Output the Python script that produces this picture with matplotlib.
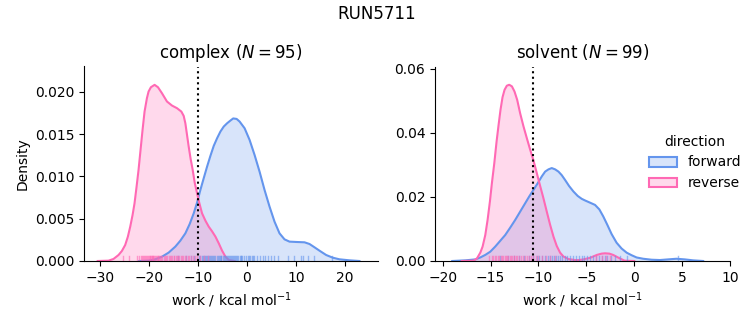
import matplotlib
matplotlib.use("Agg")
import matplotlib.pyplot as plt
from matplotlib.patches import Patch
from matplotlib.colors import to_rgba

# density curves of the work distributions (work in kcal/mol, density)
complex_fwd_x = [-22.0, -20.1, -18.73, -17.36, -16.0, -14.63, -13.61, -12.58, -11.69, -10.87,
                 -10.19, -9.51, -8.83, -8.14, -7.46, -6.78, -6.09, -5.41, -4.73, -4.04, -3.36,
                 -2.8, -2.1, -1.49, -0.47, 0.55, 1.57, 2.59, 3.61, 4.63, 5.65, 6.67, 7.69, 8.71,
                 10.08, 11.78, 12.8, 13.82, 14.84, 16.2, 17.56, 18.92, 20.96, 23.0]
complex_fwd_y = [0.0, 0.00004, 0.0002, 0.00051, 0.00099, 0.0017, 0.0024, 0.00327, 0.00438,
                 0.00564, 0.0069, 0.0084, 0.00978, 0.01116, 0.01243, 0.01361, 0.01452, 0.01531,
                 0.0159, 0.01629, 0.01661, 0.01686, 0.0168, 0.01649, 0.0157, 0.01432, 0.01254,
                 0.01057, 0.0084, 0.00643, 0.00465, 0.00327, 0.00256, 0.00229, 0.00225, 0.00221,
                 0.00201, 0.00162, 0.00122, 0.00071, 0.00039, 0.0002, 0.00008, 0.0]

complex_rev_x = [-30.5, -28.29, -27.27, -26.24, -25.56, -24.88, -24.33, -23.85, -23.37, -22.97,
                 -22.55, -22.15, -21.74, -21.33, -20.92, -20.44, -20.1, -19.62, -18.87, -18.18,
                 -17.36, -16.34, -15.31, -14.29, -13.4, -12.92, -12.58, -12.24, -11.9, -11.49,
                 -11.08, -10.67, -10.19, -9.71, -9.17, -8.48, -7.8, -7.12, -6.43, -5.75, -5.07,
                 -4.39, -3.7, -2.5]
complex_rev_y = [0.0, 0.00004, 0.00024, 0.00071, 0.00118, 0.00189, 0.00288, 0.00406, 0.00544,
                 0.00682, 0.0088, 0.01077, 0.01314, 0.0155, 0.01767, 0.01925, 0.02004, 0.02055,
                 0.02083, 0.02055, 0.01984, 0.01886, 0.01838, 0.01807, 0.01767, 0.01716, 0.01629,
                 0.01491, 0.01353, 0.01203, 0.01077, 0.00927, 0.00801, 0.00682, 0.00564, 0.00477,
                 0.00406, 0.00351, 0.00288, 0.00209, 0.00122, 0.00051, 0.00012, 0.0]

solvent_fwd_x = [-19.0, -17.64, -16.59, -16.07, -15.55, -15.03, -14.51, -13.99, -13.47, -12.95,
                 -12.43, -11.91, -11.39, -10.97, -10.52, -10.07, -9.65, -9.3, -8.95, -8.61,
                 -8.26, -7.91, -7.57, -7.22, -6.8, -6.35, -5.9, -5.48, -5.14, -4.61, -4.09,
                 -3.64, -3.23, -2.81, -2.36, -1.84, -1.32, -0.79, -0.27, 0.25, 0.94, 1.81, 2.68,
                 3.54, 4.41, 5.28, 6.15, 7.2]
solvent_fwd_y = [0.0, 0.0002, 0.0005, 0.0011, 0.0019, 0.0029, 0.0045, 0.0063, 0.0081, 0.0104,
                 0.0128, 0.0154, 0.018, 0.0201, 0.0222, 0.0243, 0.0264, 0.0279, 0.0286, 0.029,
                 0.0286, 0.0279, 0.0268, 0.0253, 0.0234, 0.0217, 0.0203, 0.0194, 0.0189, 0.0182,
                 0.0175, 0.0161, 0.0139, 0.0113, 0.0084, 0.0057, 0.0039, 0.0026, 0.0018, 0.0011,
                 0.0007, 0.0004, 0.0003, 0.0005, 0.0007, 0.0005, 0.0002, 0.0]

solvent_rev_x = [-18.0, -16.77, -16.42, -16.07, -15.83, -15.55, -15.31, -15.07, -14.86, -14.61,
                 -14.37, -14.16, -13.96, -13.75, -13.54, -13.3, -13.05, -12.77, -12.5, -12.22,
                 -11.91, -11.56, -11.21, -10.86, -10.52, -10.17, -9.82, -9.48, -9.13, -8.78,
                 -8.43, -8.09, -7.74, -7.39, -6.87, -6.18, -5.8, -5.3, -4.6, -3.9, -3.4, -3.05,
                 -2.6, -2.2, -1.5, -1.0, 0.0]
solvent_rev_y = [0.0, 0.0001, 0.0008, 0.0026, 0.0045, 0.0081, 0.0128, 0.0185, 0.0243, 0.0305,
                 0.0373, 0.0425, 0.0472, 0.0511, 0.0534, 0.0547, 0.055, 0.0545, 0.0529, 0.0503,
                 0.0461, 0.042, 0.0383, 0.0347, 0.0314, 0.0274, 0.0234, 0.0196, 0.0154, 0.0113,
                 0.0076, 0.0047, 0.0026, 0.0014, 0.0006, 0.0003, 0.0003, 0.0005, 0.001, 0.0019,
                 0.0023, 0.0024, 0.0023, 0.0019, 0.0008, 0.0001, 0.0]

# individual work values shown as rug ticks
complex_fwd_work = [-14.0, -12.5, -11.5, -10.8, -9.8, -9.5, -9.2, -9.0, -8.8, -8.6, -8.4, -8.2,
                    -8.0, -7.8, -7.6, -7.4, -7.2, -6.9, -6.7, -6.5, -6.2, -6.0, -5.8, -5.5, -5.3,
                    -5.2, -4.8, -4.6, -4.5, -4.2, -4.0, -3.9, -3.6, -3.4, -3.3, -3.0, -2.8, -2.7,
                    -2.4, -2.2, -2.1, -1.8, -1.5, -1.3, -1.2, -0.9, -0.5, -0.2, 0.2, 0.4, 0.6,
                    1.0, 1.2, 1.5, 2.0, 2.6, 3.2, 3.8, 4.3, 5.0, 5.6, 6.3, 8.4, 9.7, 11.0, 11.4,
                    12.5, 13.8, 17.3]
complex_rev_work = [-25.4, -24.2, -22.4, -22.0, -21.7, -21.5, -21.3, -21.1, -20.8, -20.6, -20.4,
                    -20.3, -20.1, -19.9, -19.8, -19.7, -19.5, -19.3, -19.2, -19.1, -18.9, -18.7,
                    -18.6, -18.4, -18.2, -18.1, -18.0, -17.8, -17.5, -17.3, -17.0, -16.8, -16.5,
                    -16.3, -16.0, -15.8, -15.5, -15.3, -15.0, -14.8, -14.5, -14.3, -14.0, -13.8,
                    -13.5, -13.2, -13.0, -12.7, -12.4, -12.1, -11.8, -11.4, -11.0, -10.6, -10.2,
                    -9.5, -8.8, -8.0]
solvent_fwd_work = [-14.0, -13.2, -12.5, -12.0, -11.5, -11.0, -10.6, -10.2, -9.9, -9.6, -9.3,
                    -9.0, -8.8, -8.6, -8.4, -8.2, -8.0, -7.8, -7.5, -7.2, -7.0, -6.7, -6.4, -6.1,
                    -5.8, -5.5, -5.2, -4.9, -4.6, -4.3, -4.0, -3.7, -3.4, -3.1, -2.8, -2.4, -2.0,
                    -1.5, -0.8, 4.6]
solvent_rev_work = [-15.2, -14.9, -14.7, -14.5, -14.4, -14.2, -14.1, -13.9, -13.8, -13.7, -13.5,
                    -13.4, -13.3, -13.2, -13.0, -12.9, -12.8, -12.6, -12.5, -12.3, -12.2, -12.0,
                    -11.8, -11.6, -11.4, -11.2, -11.0, -10.8, -10.6, -10.3, -10.0, -9.6, -9.2,
                    -8.8, -8.3, -4.0, -3.4, -2.9, -2.5]

# free energy estimates (dotted lines)
complex_estimate = -10.0
solvent_estimate = -10.55

colors = {"forward": "cornflowerblue", "reverse": "hotpink"}


def draw_phase(ax, curves, works, estimate, title):
    for direction in ["forward", "reverse"]:
        x, y = curves[direction]
        c = colors[direction]
        ax.fill_between(x, y, color=c, alpha=0.25, lw=0)
        ax.plot(x, y, color=c, lw=1.5)
    for direction in ["forward", "reverse"]:
        for w in works[direction]:
            ax.axvline(w, ymin=0, ymax=0.025, color=colors[direction], lw=1, alpha=0.6)
    ax.axvline(estimate, color="black", ls=":", lw=1.5)
    ax.set_title(title)
    ax.set_xlabel("work / kcal mol$^{-1}$")
    ax.spines["top"].set_visible(False)
    ax.spines["right"].set_visible(False)


fig = plt.figure(figsize=(7.53, 3.25), dpi=100)
ax1 = fig.add_axes([84 / 753, 64 / 325, 294 / 753, 194.5 / 325])
ax2 = fig.add_axes([435 / 753, 64 / 325, 295 / 753, 194.5 / 325])

draw_phase(ax1,
           {"forward": (complex_fwd_x, complex_fwd_y), "reverse": (complex_rev_x, complex_rev_y)},
           {"forward": complex_fwd_work, "reverse": complex_rev_work},
           complex_estimate, "complex ($N = 95$)")
draw_phase(ax2,
           {"forward": (solvent_fwd_x, solvent_fwd_y), "reverse": (solvent_rev_x, solvent_rev_y)},
           {"forward": solvent_fwd_work, "reverse": solvent_rev_work},
           solvent_estimate, "solvent ($N = 99$)")

ax1.set_xlim(-33.3, 26.8)
ax1.set_ylim(0, 0.0230)
ax1.set_yticks([0, 0.005, 0.010, 0.015, 0.020])
ax1.set_xticks([-30, -20, -10, 0, 10, 20])
ax1.set_ylabel("Density")

ax2.set_xlim(-20.8, 10.0)
ax2.set_ylim(0, 0.0607)
ax2.set_yticks([0, 0.02, 0.04, 0.06])
ax2.set_xticks([-20, -15, -10, -5, 0, 5, 10])

handles = [Patch(facecolor=to_rgba(colors[d], 0.25), edgecolor=colors[d], lw=1.5)
           for d in ["forward", "reverse"]]
fig.legend(handles, ["forward", "reverse"], title="direction", frameon=False,
           loc="center left", bbox_to_anchor=(0.845, 0.5))

fig.suptitle("RUN5711", y=0.985)
fig.savefig("out.png", dpi=100)
